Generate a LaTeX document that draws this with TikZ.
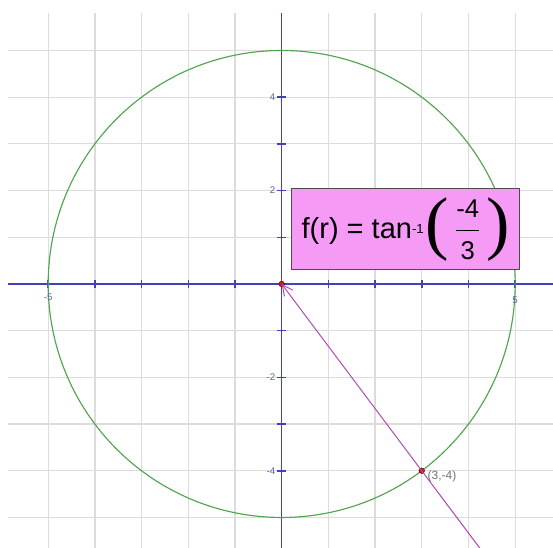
\documentclass[tikz,border=0pt]{standalone}
\usepackage{fontspec}
\setmainfont{Liberation Sans}
\newfontfamily\parenfont{Liberation Serif}
\usetikzlibrary{arrows.meta}
\definecolor{gridc}{RGB}{220,220,220}
\definecolor{axisc}{RGB}{65,65,190}
\definecolor{circc}{RGB}{80,165,80}
\definecolor{linec}{RGB}{175,70,175}
\definecolor{boxc}{RGB}{245,155,245}
\definecolor{lblc}{RGB}{90,100,160}
\definecolor{dotc}{RGB}{200,30,30}
\begin{document}
\begin{tikzpicture}[x=0.934cm,y=0.934cm,
  gridline/.style={draw=gridc,line width=0.7pt},
  axisline/.style={draw=axisc,line width=0.85pt},
  circline/.style={draw=circc,line width=0.65pt},
  vecline/.style={draw=linec,line width=0.55pt},
  ticklbl/.style={text=lblc,font=\fontsize{5.5}{6}\selectfont,inner sep=0pt},
  dotstyle/.style={circle,fill=dotc,draw=black!60!red,line width=0.3pt,inner sep=0pt,minimum size=0.11cm},
  fbox/.style={draw=black!70,line width=0.7pt,fill=boxc,minimum width=4.56cm,minimum height=1.62cm,inner sep=0pt}]
\useasboundingbox (-6.032,-5.653) rectangle (5.81,6.081);
\fill[white] (-6.032,-5.653) rectangle (5.81,6.081);
% grid
\foreach \i in {-5,...,5} \draw[gridline] (\i,-5.653) -- (\i,5.803);
\foreach \j in {-5,...,5} \draw[gridline] (-5.861,\j) -- (5.81,\j);
% axes
\coordinate (xl) at (-5.861,0);
\coordinate (xr) at (5.81,0);
\coordinate (yb) at (0,-5.653);
\coordinate (yt) at (0,5.803);
\draw[axisline] (xl) -- (xr);
\draw[axisline] (yb) -- (yt);
\foreach \i in {-5,...,5} \draw[axisline] (\i,-0.09) -- (\i,0.09);
\foreach \j in {-5,...,5} \draw[axisline] (-0.09,\j) -- (0.09,\j);
% circle
\draw[circline] (0,0) circle (5);
% tick labels
\node[ticklbl,anchor=east] (l4) at (-0.13,4) {4};
\node[ticklbl,anchor=east] (l2) at (-0.13,2) {2};
\node[ticklbl,anchor=east] (lm2) at (-0.13,-2) {-2};
\node[ticklbl,anchor=east] (lm4) at (-0.13,-4) {-4};
\node[ticklbl] (lm5) at (-5,-0.28) {-5};
\node[ticklbl] (l5) at (5,-0.34) {5};
% vector line
\coordinate (O) at (0,0);
\coordinate (E) at (4.24,-5.653);
\node[dotstyle] (P) at (3,-4) {};
\node[dotstyle] (Od) at (O) {};
\draw[vecline,-{Straight Barb[length=6pt,width=6pt]}] (E) -- (O);
\node[text=black!55,font=\fontsize{6.8}{8}\selectfont,anchor=west,inner sep=0pt] (pl) at (3.12,-4.12) {(3,-4)};
% formula box
\node[fbox] (f) at (2.657,1.17) {};
\node[inner sep=0pt] (ft) at (f.center) {\fontsize{16.5}{20}\selectfont f(r) = tan\raisebox{3pt}{\fontsize{7.5}{9}\selectfont -1}\hspace{1pt}\raisebox{-4.5pt}{\parenfont\fontsize{40}{44}\selectfont (}\hspace{3pt}$\displaystyle\frac{\mbox{\fontsize{14.6}{16}\selectfont -4}}{\mbox{\fontsize{14.6}{16}\selectfont 3}}$\hspace{3pt}\raisebox{-4.5pt}{\parenfont\fontsize{40}{44}\selectfont )}};
\end{tikzpicture}
\end{document}
